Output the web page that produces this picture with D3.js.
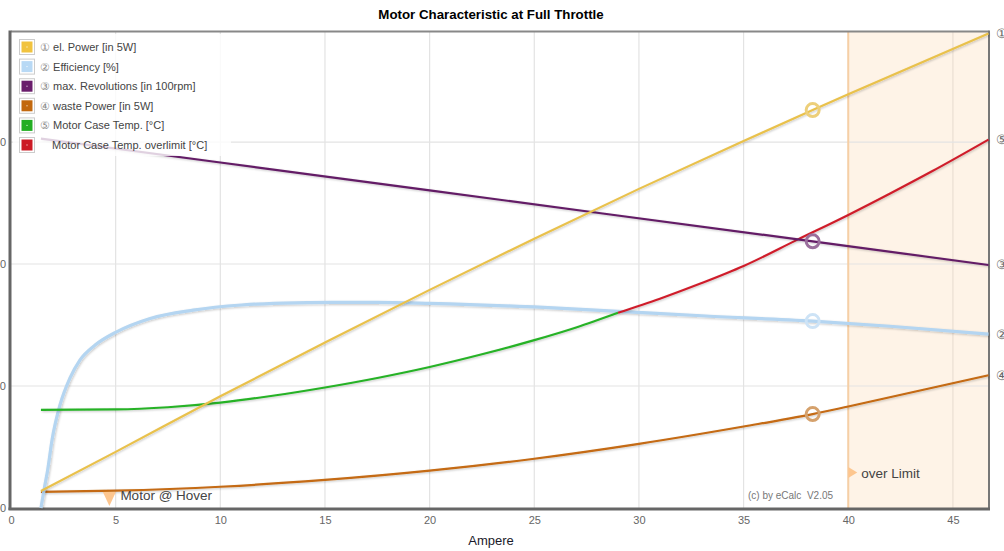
<!DOCTYPE html>
<html>
<head>
<meta charset="utf-8">
<script src="https://cdn.jsdelivr.net/npm/d3@7"></script>
<style>
  html, body { margin: 0; padding: 0; background: #fff; overflow: hidden; }
  svg { display: block; font-family: "Liberation Sans", Arial, sans-serif; }
</style>
</head>
<body>
<svg id="chart" width="1004" height="551"></svg>
<script>
// Motor characteristic curves versus current (A)
const elPowerA = [1.43, 5, 10, 15, 20, 25, 30, 35, 38.3, 40, 46.7];
const elPower  = [7.0, 23.0, 45.8, 67.8, 89.4, 110.4, 130.8, 150.4, 163.1, 169.6, 194.5];

const effA = [1.43, 1.6, 1.75, 1.96, 2.34, 2.82, 3.3, 4.02, 5.02, 6.65, 8.7, 11, 13, 15.3, 17.5, 20, 25, 29, 33, 38.3, 42, 46.7];
const eff  = [0, 8.5, 15.5, 27.9, 42.2, 53.3, 60.7, 66.8, 72.1, 77.7, 81.1, 83.2, 84.0, 84.3, 84.3, 83.9, 82.4, 80.6, 78.8, 76.6, 74.5, 71.3];

const revA = [1.43, 10, 20, 28.18, 38.3, 46.7];
const rev  = [151.4, 141.6, 130.2, 120.8, 109.3, 99.6];

const wasteA = [1.43, 5, 10, 15, 20, 25, 30, 35, 38.3, 40, 46.7];
const waste  = [6.6, 7.1, 8.7, 11.5, 15.3, 20.2, 26.3, 33.4, 38.5, 41.6, 54.4];

const tempA = [1.43, 5, 7.5, 10, 12.5, 15, 17.5, 20, 22.5, 25, 27, 29];
const temp  = [40.2, 40.4, 41.3, 43.2, 46.0, 49.4, 53.3, 57.8, 63.0, 68.8, 74.0, 80.0];

const tempOverA = [29, 31, 33, 35, 37.6, 40, 42, 44, 46.7];
const tempOver  = [80.0, 85.8, 92.2, 99.2, 110.1, 120.1, 128.9, 138.0, 151.0];

const xTicks = [0, 5, 10, 15, 20, 25, 30, 35, 40, 45];
const yTicks = [0, 50, 100, 150];

const legendLabels = ["el. Power [in 5W]", "Efficiency [%]", "max. Revolutions [in 100rpm]",
                      "waste Power [in 5W]", "Motor Case Temp. [°C]", "Motor Case Temp. overlimit [°C]"];
const legendMarks = ["①", "②", "③", "④", "⑤", ""];

const operatingA = 38.3;   // full-throttle operating point
const hoverA = 4.7;        // hover current
const limitA = 40;         // max continuous current

(function draw() {
const svg = d3.select("#chart");
const pLeft = 11, pRight = 988.5, pTop = 32, pBottom = 508;
const x = d3.scaleLinear().domain([0, 46.7]).range([pLeft, pRight]);
const y = d3.scaleLinear().domain([0, 195.1]).range([pBottom, pTop]);

const defs = svg.append("defs");
const f = defs.append("filter").attr("id", "shadow").attr("x", "-5%").attr("y", "-5%").attr("width", "110%").attr("height", "110%");
f.append("feDropShadow").attr("dx", 1).attr("dy", 1).attr("stdDeviation", 0.8)
  .attr("flood-color", "#000").attr("flood-opacity", 0.22);
defs.append("clipPath").attr("id", "plotclip").append("rect")
  .attr("x", pLeft).attr("y", pTop - 2).attr("width", pRight - pLeft + 2).attr("height", pBottom - pTop + 4);

// title
svg.append("text").attr("x", 491).attr("y", 19).attr("text-anchor", "middle")
  .attr("font-size", 13.3).attr("font-weight", "bold").attr("fill", "#000")
  .text("Motor Characteristic at Full Throttle");

// over-limit band
svg.append("rect").attr("x", x(limitA)).attr("y", pTop).attr("width", pRight - x(limitA)).attr("height", pBottom - pTop)
  .attr("fill", "#fef3e7");

// grid
svg.append("g").selectAll("line").data(xTicks.filter(d => d > 0)).join("line")
  .attr("x1", d => x(d)).attr("x2", d => x(d)).attr("y1", pTop).attr("y2", pBottom)
  .attr("stroke", d => d > limitA ? "#eadfd3" : "#e3e3e3").attr("stroke-width", 1.2);
svg.append("g").selectAll("line").data(yTicks.filter(d => d > 0)).join("line")
  .attr("x1", pLeft).attr("x2", pRight).attr("y1", d => y(d)).attr("y2", d => y(d))
  .attr("stroke", "#e3e3e3").attr("stroke-width", 1.2);

svg.append("line").attr("x1", x(limitA)).attr("x2", x(limitA)).attr("y1", pTop).attr("y2", pBottom)
  .attr("stroke", "#f6cfa5").attr("stroke-width", 2);

// axes
const xAxis = d3.axisBottom(x).tickValues(xTicks).tickSize(0).tickPadding(8);
const gx = svg.append("g").attr("transform", `translate(0,${pBottom})`).call(xAxis);
gx.select(".domain").remove();
gx.selectAll("text").attr("font-size", 11).attr("fill", "#666").attr("font-family", "Liberation Sans, Arial, sans-serif");

// y-axis labels sit against the left edge of the page
const yAxis = d3.axisLeft(y).tickValues(yTicks).tickSize(0).tickPadding(4);
const gy = svg.append("g").attr("transform", `translate(${pLeft - 1},0)`).call(yAxis);
gy.select(".domain").remove();
gy.selectAll("text").attr("font-size", 11).attr("fill", "#666").attr("font-family", "Liberation Sans, Arial, sans-serif");

// frame
svg.append("line").attr("x1", pLeft).attr("x2", pRight).attr("y1", pTop - 0.5).attr("y2", pTop - 0.5)
  .attr("stroke", "#888").attr("stroke-width", 2);
svg.append("line").attr("x1", pRight + 0.5).attr("x2", pRight + 0.5).attr("y1", pTop - 1.5).attr("y2", pBottom)
  .attr("stroke", "#777").attr("stroke-width", 2);
svg.append("line").attr("x1", pLeft - 1).attr("x2", pLeft - 1).attr("y1", pTop - 1.5).attr("y2", pBottom + 2)
  .attr("stroke", "#666").attr("stroke-width", 3);
svg.append("line").attr("x1", pLeft - 2.5).attr("x2", pRight + 1.5).attr("y1", pBottom + 1).attr("y2", pBottom + 1)
  .attr("stroke", "#666").attr("stroke-width", 3);

// x axis title
svg.append("text").attr("x", 491).attr("y", 545).attr("text-anchor", "middle")
  .attr("font-size", 13).attr("fill", "#1a1a2a").text("Ampere");

// series
const plot = svg.append("g").attr("clip-path", "url(#plotclip)");
const line = (xs, ys, curve) => d3.line().x((d, i) => x(xs[i])).y(d => y(d)).curve(curve)(ys);

const series = [
  { xs: wasteA, ys: waste, color: "#c46a12", w: 2.2, curve: d3.curveMonotoneX },
  { xs: effA, ys: eff, color: "#b4d5f1", w: 3.2, curve: d3.curveMonotoneX },
  { xs: tempA, ys: temp, color: "#27b227", w: 2.2, curve: d3.curveMonotoneX },
  { xs: tempOverA, ys: tempOver, color: "#cf1f2c", w: 2.2, curve: d3.curveMonotoneX },
  { xs: revA, ys: rev, color: "#631c66", w: 2.2, curve: d3.curveLinear },
  { xs: elPowerA, ys: elPower, color: "#e9c14c", w: 2.2, curve: d3.curveMonotoneX }
];
series.forEach(s => {
  plot.append("path").attr("d", line(s.xs, s.ys, s.curve))
    .attr("fill", "none").attr("stroke", s.color).attr("stroke-width", s.w)
    .attr("stroke-linejoin", "round").attr("filter", "url(#shadow)");
});

// operating point markers
const interp = (xs, ys, v) => {
  const i = xs.findIndex(t => t >= v);
  if (xs[i] === v) return ys[i];
  const t = (v - xs[i - 1]) / (xs[i] - xs[i - 1]);
  return ys[i - 1] + t * (ys[i] - ys[i - 1]);
};
const markers = [
  { xs: elPowerA, ys: elPower, color: "#edcf7a" },
  { xs: effA, ys: eff, color: "#cde3f6" },
  { xs: revA, ys: rev, color: "#9a6e9c" },
  { xs: wasteA, ys: waste, color: "#d5a16c" }
];
markers.forEach(m => {
  svg.append("circle").attr("cx", x(operatingA)).attr("cy", y(interp(m.xs, m.ys, operatingA)))
    .attr("r", 6.5).attr("fill", "none").attr("stroke", m.color).attr("stroke-width", 3);
});

// end-of-line labels
const ends = [
  { ys: elPower, mark: "①" }, { ys: eff, mark: "②" }, { ys: rev, mark: "③" },
  { ys: waste, mark: "④" }, { ys: tempOver, mark: "⑤" }
];
ends.forEach(e => {
  svg.append("text").attr("x", 996).attr("y", y(e.ys[e.ys.length - 1]) + 4.5)
    .attr("font-size", 13).attr("fill", "#666").text(e.mark);
});

// hover marker
const hx = x(hoverA);
svg.append("path").attr("d", `M${hx - 6.5},${pBottom - 16} L${hx + 6.5},${pBottom - 16} L${hx},${pBottom - 2} Z`)
  .attr("fill", "#fdc68f");
svg.append("text").attr("x", hx + 11).attr("y", pBottom - 8).attr("font-size", 13.5).attr("fill", "#444")
  .text("Motor @ Hover");

// over-limit marker
const lx = x(limitA);
svg.append("path").attr("d", `M${lx},${pBottom - 41} L${lx + 9},${pBottom - 35.5} L${lx},${pBottom - 30} Z`)
  .attr("fill", "#fdc68f");
svg.append("text").attr("x", lx + 13).attr("y", pBottom - 30.5).attr("font-size", 13.5).attr("fill", "#444")
  .text("over Limit");

// credit
svg.append("text").attr("x", 748).attr("y", pBottom - 9).attr("font-size", 10).attr("fill", "#777")
  .attr("xml:space", "preserve").text("(c) by eCalc  V2.05");

// legend
const lg = svg.append("g");
lg.append("rect").attr("x", pLeft + 2).attr("y", pTop + 2).attr("width", 218).attr("height", 122)
  .attr("fill", "#fff").attr("opacity", 0.8);
const swatch = ["#f1c33f", "#b8d9f5", "#6a1d6c", "#c2680e", "#22ad22", "#cc1a25"];
legendLabels.forEach((lab, i) => {
  const cy = 47 + i * 19.6;
  lg.append("rect").attr("x", 19.5).attr("y", cy - 7.5).attr("width", 15).attr("height", 15)
    .attr("fill", "#fff").attr("stroke", "#ccc").attr("stroke-width", 1);
  lg.append("rect").attr("x", 21.5).attr("y", cy - 5.5).attr("width", 11).attr("height", 11).attr("fill", swatch[i]);
  lg.append("rect").attr("x", 26.5).attr("y", cy - 0.5).attr("width", 1).attr("height", 1).attr("fill", "#fff");
  const t = lg.append("text").attr("x", 40).attr("y", cy + 4).attr("font-size", 11).attr("fill", "#444");
  if (legendMarks[i]) {
    t.append("tspan").attr("fill", "#888").text(legendMarks[i] + " ");
    t.append("tspan").text(lab);
  } else {
    t.attr("x", 52).text(lab);
  }
});
})();
</script>
</body>
</html>
